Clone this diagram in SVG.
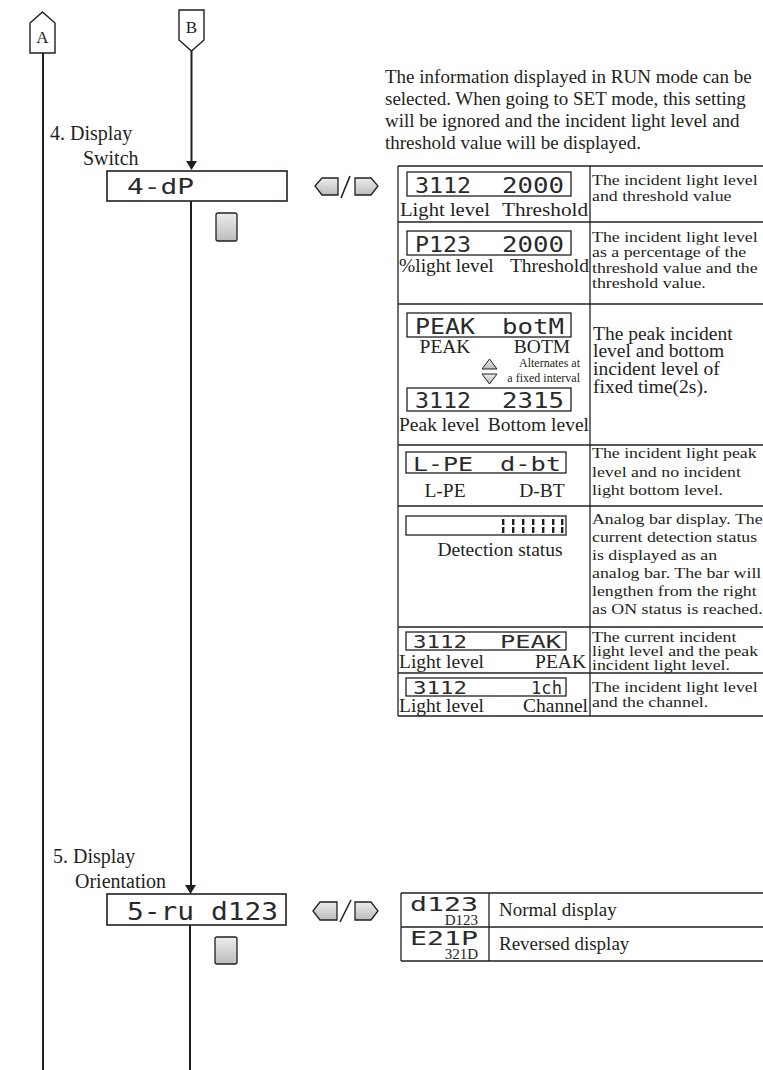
<svg xmlns="http://www.w3.org/2000/svg" width="763" height="1070" viewBox="0 0 763 1070">
<defs>
<linearGradient id="gb" x1="0" y1="0" x2="0" y2="1"><stop offset="0" stop-color="#ececec"/><stop offset="1" stop-color="#bcbcbc"/></linearGradient>
<style>
.ln{stroke:#231f20;stroke-width:2;fill:none}
.tb{stroke:#231f20;stroke-width:1.3;fill:none}
.t{font-family:"Liberation Serif","Times New Roman",serif;fill:#231f20}
.lb{font-family:"Liberation Serif","Times New Roman",serif;fill:#231f20;font-size:19.5px}
.rt{font-family:"Liberation Serif","Times New Roman",serif;fill:#231f20;font-size:15.5px}
.seg{font-family:"DejaVu Sans Mono","Liberation Mono",monospace;fill:#2a2a2a}
.box{fill:#fff;stroke:#231f20;stroke-width:1.6}
.disp{fill:#fff;stroke:#231f20;stroke-width:1.3}
.btn{fill:url(#gb);stroke:#231f20;stroke-width:1.3}
.ah{fill:#231f20}
</style>
</defs>
<rect width="763" height="1070" fill="#fff"/>

<g id="connectors">
<line class="ln" x1="43" y1="53" x2="43" y2="1070"/>
<line class="ln" x1="191.5" y1="51" x2="191.5" y2="162"/>
<polygon class="ah" points="186,161 197,161 191.5,170"/>
<line class="ln" x1="191" y1="201" x2="191" y2="886"/>
<polygon class="ah" points="185,885 196,885 190.5,894"/>
<line class="ln" x1="190" y1="925" x2="190" y2="1070"/>
</g>

<g id="nodeA">
<polygon points="30,23 42.5,12 55,23 55,53 30,53" fill="#fff" stroke="#231f20" stroke-width="1.4"/>
<text class="t" x="42.5" y="43" font-size="17" text-anchor="middle">A</text>
</g>
<g id="nodeB">
<polygon points="179,10 204,10 204,40 191.5,51 179,40" fill="#fff" stroke="#231f20" stroke-width="1.4"/>
<text class="t" x="191.5" y="33" font-size="17" text-anchor="middle">B</text>
</g>

<g id="desc">
<text class="t" font-size="19" x="385" y="83">The information displayed in RUN mode can be</text>
<text class="t" font-size="19" x="385" y="105">selected. When going to SET mode, this setting</text>
<text class="t" font-size="19" x="385" y="127">will be ignored and the incident light level and</text>
<text class="t" font-size="19" x="385" y="149">threshold value will be displayed.</text>
</g>

<g id="step4">
<text class="t" font-size="20" x="50" y="140">4. Display</text>
<text class="t" font-size="20" x="83" y="165">Switch</text>
<rect class="box" x="107" y="171" width="180" height="30"/>
<text class="seg" font-size="22" x="127" y="194" textLength="67" lengthAdjust="spacingAndGlyphs">4-dP</text>
<rect class="btn" x="216" y="213" width="21" height="28" rx="2"/>
<polygon class="btn" points="315,186 322,178 338,178 338,195 322,195"/>
<line x1="341" y1="198" x2="350" y2="176" stroke="#231f20" stroke-width="1.6"/>
<polygon class="btn" points="355,178 371,178 378,186 371,195 355,195"/>
</g>

<g id="table1">
<line class="tb" x1="398" y1="166" x2="763" y2="166"/>
<line class="tb" x1="398" y1="222" x2="763" y2="222"/>
<line class="tb" x1="398" y1="304" x2="763" y2="304"/>
<line class="tb" x1="398" y1="445" x2="763" y2="445"/>
<line class="tb" x1="398" y1="506" x2="763" y2="506"/>
<line class="tb" x1="398" y1="627" x2="763" y2="627"/>
<line class="tb" x1="398" y1="673" x2="763" y2="673"/>
<line class="tb" x1="398" y1="716" x2="763" y2="716"/>
<line class="tb" x1="398" y1="166" x2="398" y2="716"/>
<line class="tb" x1="590" y1="166" x2="590" y2="716"/>

<rect class="disp" x="407" y="172" width="164" height="24"/>
<text class="seg" font-size="21" x="415" y="193" textLength="56" lengthAdjust="spacingAndGlyphs">3112</text>
<text class="seg" font-size="21" x="502" y="193" textLength="62" lengthAdjust="spacingAndGlyphs">2000</text>
<text class="lb" x="400" y="216" textLength="90" lengthAdjust="spacingAndGlyphs">Light level</text>
<text class="lb" x="502" y="216" textLength="86" lengthAdjust="spacingAndGlyphs">Threshold</text>

<rect class="disp" x="407" y="231" width="164" height="24"/>
<text class="seg" font-size="21" x="415" y="252" textLength="56" lengthAdjust="spacingAndGlyphs">P123</text>
<text class="seg" font-size="21" x="502" y="252" textLength="62" lengthAdjust="spacingAndGlyphs">2000</text>
<text class="lb" x="399" y="272">%light level</text>
<text class="lb" x="589" y="272" text-anchor="end">Threshold</text>

<rect class="disp" x="407" y="313" width="164" height="24"/>
<text class="seg" font-size="21" x="415" y="334" textLength="60" lengthAdjust="spacingAndGlyphs">PEAK</text>
<text class="seg" font-size="21" x="502" y="334" textLength="62" lengthAdjust="spacingAndGlyphs">botM</text>
<text class="lb" x="445" y="353" text-anchor="middle">PEAK</text>
<text class="lb" x="542" y="353" text-anchor="middle">BOTM</text>
<polygon points="482,369 489.5,359 497,369" fill="url(#gb)" stroke="#231f20" stroke-width="1"/>
<polygon points="482,374 497,374 489.5,384" fill="url(#gb)" stroke="#231f20" stroke-width="1"/>
<text class="t" font-size="12" x="580" y="367" text-anchor="end">Alternates at</text>
<text class="t" font-size="12" x="580" y="382" text-anchor="end">a fixed interval</text>
<rect class="disp" x="407" y="388" width="164" height="23"/>
<text class="seg" font-size="21" x="415" y="408" textLength="56" lengthAdjust="spacingAndGlyphs">3112</text>
<text class="seg" font-size="21" x="502" y="408" textLength="62" lengthAdjust="spacingAndGlyphs">2315</text>
<text class="lb" x="399" y="431">Peak level</text>
<text class="lb" x="589" y="431" text-anchor="end">Bottom level</text>
<text class="t" font-size="19.5" x="593" y="340">The peak incident</text>
<text class="t" font-size="19.5" x="593" y="357">level and bottom</text>
<text class="t" font-size="19.5" x="593" y="375">incident level of</text>
<text class="t" font-size="19.5" x="593" y="393">fixed time(2s).</text>

<rect class="disp" x="406" y="452" width="160" height="21"/>
<text class="seg" font-size="20" x="413" y="471" textLength="60" lengthAdjust="spacingAndGlyphs">L-PE</text>
<text class="seg" font-size="20" x="500" y="471" textLength="61" lengthAdjust="spacingAndGlyphs">d-bt</text>
<text class="lb" x="445" y="497" text-anchor="middle">L-PE</text>
<text class="lb" x="542" y="497" text-anchor="middle">D-BT</text>

<rect class="disp" x="406" y="516" width="160" height="19"/>
<g fill="#231f20">
<rect x="502" y="519" width="2.4" height="6"/><rect x="502" y="527" width="2.4" height="6"/>
<rect x="512" y="519" width="2.4" height="6"/><rect x="512" y="527" width="2.4" height="6"/>
<rect x="522" y="519" width="2.4" height="6"/><rect x="522" y="527" width="2.4" height="6"/>
<rect x="532" y="519" width="2.4" height="6"/><rect x="532" y="527" width="2.4" height="6"/>
<rect x="542" y="519" width="2.4" height="6"/><rect x="542" y="527" width="2.4" height="6"/>
<rect x="552" y="519" width="2.4" height="6"/><rect x="552" y="527" width="2.4" height="6"/>
<rect x="561" y="519" width="2.4" height="6"/><rect x="561" y="527" width="2.4" height="6"/>
</g>
<text class="lb" x="500" y="556" text-anchor="middle">Detection status</text>

<rect class="disp" x="406" y="632" width="160" height="18"/>
<text class="seg" font-size="18" x="413" y="648" textLength="54" lengthAdjust="spacingAndGlyphs">3112</text>
<text class="seg" font-size="18" x="500" y="648" textLength="61" lengthAdjust="spacingAndGlyphs">PEAK</text>
<text class="lb" x="399" y="668">Light level</text>
<text class="lb" x="586" y="668" text-anchor="end">PEAK</text>

<rect class="disp" x="406" y="678" width="160" height="18"/>
<text class="seg" font-size="18" x="413" y="694" textLength="54" lengthAdjust="spacingAndGlyphs">3112</text>
<text class="seg" font-size="18" x="531" y="694" textLength="31" lengthAdjust="spacingAndGlyphs">1ch</text>
<text class="lb" x="399" y="712">Light level</text>
<text class="lb" x="588" y="712" text-anchor="end">Channel</text>

<g transform="translate(592 0) scale(1.15 1)">
<text class="rt" x="0" y="185">The incident light level</text>
<text class="rt" x="0" y="201">and threshold value</text>
<text class="rt" x="0" y="242">The incident light level</text>
<text class="rt" x="0" y="257">as a percentage of the</text>
<text class="rt" x="0" y="273">threshold value and the</text>
<text class="rt" x="0" y="288">threshold value.</text>
<text class="rt" x="0" y="458">The incident light peak</text>
<text class="rt" x="0" y="477">level and no incident</text>
<text class="rt" x="0" y="495">light bottom level.</text>
<text class="rt" x="0" y="524">Analog bar display. The</text>
<text class="rt" x="0" y="542">current detection status</text>
<text class="rt" x="0" y="560">is displayed as an</text>
<text class="rt" x="0" y="578">analog bar. The bar will</text>
<text class="rt" x="0" y="596">lengthen from the right</text>
<text class="rt" x="0" y="614">as ON status is reached.</text>
<text class="rt" x="0" y="642">The current incident</text>
<text class="rt" x="0" y="656">light level and the peak</text>
<text class="rt" x="0" y="670">incident light level.</text>
<text class="rt" x="0" y="692">The incident light level</text>
<text class="rt" x="0" y="707">and the channel.</text>
</g>
</g>

<g id="step5">
<text class="t" font-size="20" x="53" y="863">5. Display</text>
<text class="t" font-size="20" x="75" y="888">Orientation</text>
<rect class="box" x="107" y="894" width="179" height="31"/>
<text class="seg" font-size="24" x="127" y="920" textLength="151" lengthAdjust="spacingAndGlyphs">5-ru d123</text>
<rect class="btn" x="215" y="937" width="22" height="27" rx="2"/>
<polygon class="btn" points="313,911 320,902 337,902 337,920 320,920"/>
<line x1="340" y1="922" x2="351" y2="900" stroke="#231f20" stroke-width="1.6"/>
<polygon class="btn" points="355,902 371,902 378,911 371,920 355,920"/>
</g>

<g id="table2">
<line class="tb" x1="401" y1="893" x2="763" y2="893"/>
<line class="tb" x1="401" y1="927" x2="763" y2="927"/>
<line class="tb" x1="401" y1="961" x2="763" y2="961"/>
<line class="tb" x1="401" y1="893" x2="401" y2="961"/>
<line class="tb" x1="489" y1="893" x2="489" y2="961"/>
<text class="seg" font-size="19" x="410" y="911" textLength="68" lengthAdjust="spacingAndGlyphs">d123</text>
<text class="t" font-size="15" x="478" y="925" text-anchor="end">D123</text>
<text class="t" font-size="19" x="499" y="916">Normal display</text>
<text class="seg" font-size="19" x="410" y="945" textLength="68" lengthAdjust="spacingAndGlyphs">E21P</text>
<text class="t" font-size="15" x="478" y="959" text-anchor="end">321D</text>
<text class="t" font-size="19" x="499" y="950">Reversed display</text>
</g>
</svg>
